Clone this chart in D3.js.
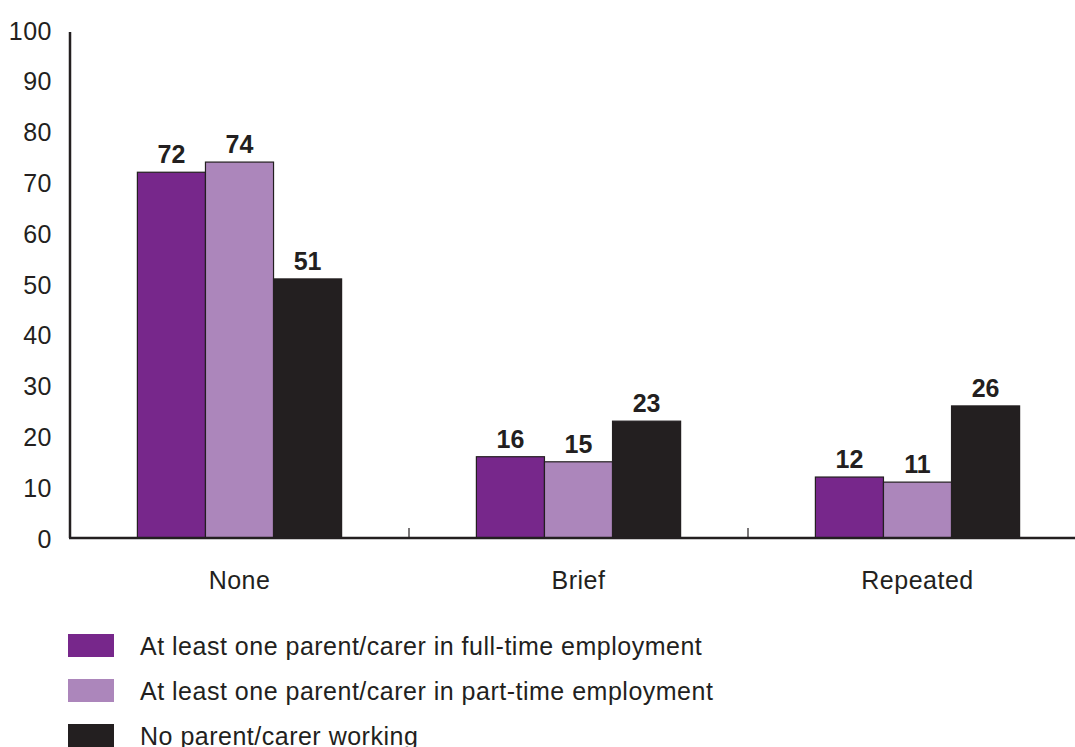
<!DOCTYPE html>
<html>
<head>
<meta charset="utf-8">
<script src="https://cdn.jsdelivr.net/npm/d3@7"></script>
<style>
  html, body { margin: 0; padding: 0; background: #fff; }
  svg { display: block; }
  text { font-family: "Liberation Sans", "Helvetica Neue", Arial, sans-serif; fill: #231f20; }
  .lbl { font-size: 25px; letter-spacing: 0.5px; }
</style>
</head>
<body>
<svg id="chart" width="1075" height="747"></svg>
<script>
// Share of children by number of episodes, split by parental employment
const categories = ["None", "Brief", "Repeated"];
const seriesNames = [
  "At least one parent/carer in full-time employment",
  "At least one parent/carer in part-time employment",
  "No parent/carer working"
];
const fullTime = [72, 16, 12];
const partTime = [74, 15, 11];
const notWorking = [51, 23, 26];
const yTicks = [0, 10, 20, 30, 40, 50, 60, 70, 80, 90, 100];
const colors = ["#77278b", "#ac86bb", "#231f20"];

const seriesValues = [fullTime, partTime, notWorking];

const svg = d3.select("#chart");
const plot = { left: 70, right: 1087, top: 30, bottom: 538 };

const x = d3.scaleBand().domain(categories).range([plot.left, plot.right]).paddingInner(0).paddingOuter(0);
const inner = d3.scaleBand().domain(d3.range(seriesNames.length)).range([0, x.bandwidth()]).paddingOuter(0.99).paddingInner(0);
const y = d3.scaleLinear().domain([0, 100]).range([plot.bottom, plot.top]);

// Bars
const groups = svg.append("g").selectAll("g")
  .data(categories)
  .join("g")
  .attr("transform", d => `translate(${x(d)},0)`);

groups.selectAll("rect")
  .data((c, ci) => seriesValues.map((vals, si) => ({ si, v: vals[ci] })))
  .join("rect")
  .attr("x", d => inner(d.si))
  .attr("width", inner.bandwidth())
  .attr("y", d => y(d.v))
  .attr("height", d => y(0) - y(d.v))
  .attr("fill", d => colors[d.si])
  .attr("stroke", "#231f20")
  .attr("stroke-width", 1.2);

// Value labels
groups.selectAll("text.val")
  .data((c, ci) => seriesValues.map((vals, si) => ({ si, v: vals[ci] })))
  .join("text")
  .attr("class", "val")
  .attr("x", d => inner(d.si) + inner.bandwidth() / 2)
  .attr("y", d => y(d.v) - 9)
  .attr("text-anchor", "middle")
  .attr("font-size", 25)
  .attr("font-weight", "bold")
  .text(d => d.v);

// Y axis
const yAxis = svg.append("g")
  .attr("transform", `translate(${plot.left},0)`)
  .call(d3.axisLeft(y).tickValues(yTicks).tickSize(0).tickPadding(18));
yAxis.select(".domain").attr("stroke", "#231f20").attr("stroke-width", 2.5)
  .attr("d", `M0,${plot.top + 2}V${plot.bottom}`);
yAxis.selectAll(".tick text")
  .attr("class", "lbl")
  .attr("font-size", null)
  .attr("font-family", null)
  .attr("fill", "#231f20")
  .attr("dy", "0.36em");

// X axis
const xAxis = svg.append("g")
  .attr("transform", `translate(0,${plot.bottom})`)
  .call(d3.axisBottom(x).tickSize(0).tickPadding(33));
xAxis.select(".domain").attr("stroke", "#231f20").attr("stroke-width", 2.5)
  .attr("d", `M${plot.left - 1},0H1075`);
xAxis.selectAll(".tick text")
  .attr("class", "lbl")
  .attr("font-family", null)
  .attr("fill", "#231f20")
  .attr("dy", "0.71em");

// Separator ticks between categories
svg.append("g").selectAll("line")
  .data(categories.slice(1))
  .join("line")
  .attr("x1", d => x(d)).attr("x2", d => x(d))
  .attr("y1", plot.bottom - 10).attr("y2", plot.bottom)
  .attr("stroke", "#231f20").attr("stroke-width", 1.2);

// Legend
const legend = svg.append("g").selectAll("g")
  .data(seriesNames)
  .join("g")
  .attr("transform", (d, i) => `translate(68,${634 + i * 45})`);
legend.append("rect")
  .attr("width", 46).attr("height", 23)
  .attr("fill", (d, i) => colors[i]);
legend.append("text")
  .attr("class", "lbl")
  .attr("x", 72).attr("y", 21)
  .text(d => d);
</script>
</body>
</html>
